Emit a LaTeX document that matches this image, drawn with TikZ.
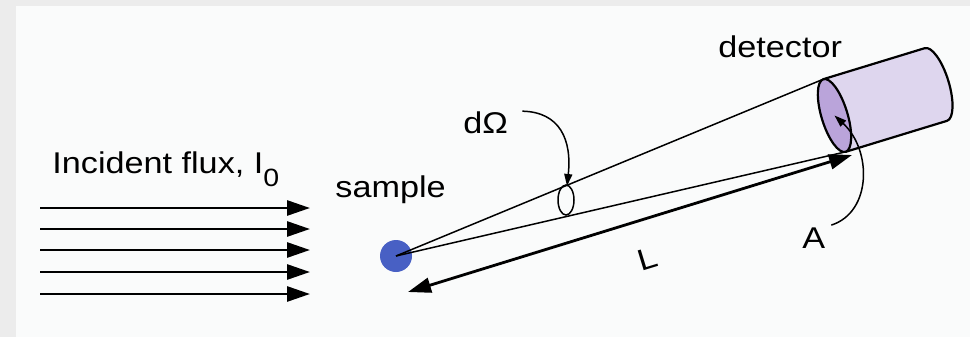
\documentclass[tikz,border=0pt]{standalone}
\usepackage{fontspec}
\setmainfont[FakeStretch=1.14]{Liberation Sans}
\usetikzlibrary{arrows.meta}

\definecolor{bgframe}{RGB}{236,236,236}
\definecolor{bgpaper}{RGB}{250,251,251}
\definecolor{samplecol}{RGB}{72,96,196}
\definecolor{bodycol}{RGB}{222,214,238}
\definecolor{facecol}{RGB}{186,164,218}

\begin{document}
\begin{tikzpicture}[
    x=0.5pt, y=-0.5pt,
    font=\fontsize{15}{17}\selectfont,
    beam/.style={
        line width=1.4pt,
        -{Triangle[length=11.5pt,width=7.5pt]}
      },
    ray/.style={line width=0.75pt},
    pointer/.style={
        line width=0.75pt,
        -{Triangle[length=6pt,width=4pt]}
      },
    lbl/.style={inner sep=0pt}
  ]
  % 背景
  \fill[bgframe] (0,0) rectangle (970,337);
  \fill[bgpaper] (16,6) rectangle (970,337);
  \useasboundingbox (0,0) rectangle (970,337);

  % 入射ビーム
  \node[lbl, anchor=base west] (flux) at (52,173)
    {Incident flux, I\raisebox{-0.45em}{\fontsize{12.5}{13}\selectfont 0}};
  \foreach \k/\y in {1/208, 2/229, 3/250, 4/272, 5/294}{
    \coordinate (in\k) at (40,\y);
    \coordinate (out\k) at (310,\y);
    \draw[beam] (in\k) -- (out\k);
  }

  % 試料
  \node[circle, fill=samplecol, minimum size=16pt, inner sep=0pt] (sample) at (396,256) {};
  \node[lbl, anchor=base west] (samplelabel) at (335,197) {sample};

  % 検出器（円筒）
  \begin{scope}[shift={(834.5,115.5)}, rotate=17]
    \coordinate (face top) at (0,-38);
    \coordinate (face bottom) at (0,38);
    \coordinate (face centre) at (0,0);
    \filldraw[fill=bodycol, line width=1.1pt]
      (0,-38) -- (106,-38)
      arc[start angle=-90, end angle=90, x radius=13, y radius=38]
      -- (0,38);
    \filldraw[fill=facecol, line width=1.1pt] (face centre) ellipse [x radius=13, y radius=38];
  \end{scope}
  \node[lbl, anchor=base west] (detectorlabel) at (718,57) {detector};

  % 立体角の円錐
  \draw[ray] (sample.center) -- (face top);
  \draw[ray] (sample.center) -- (face bottom);
  \draw[ray] (566,200) ellipse [x radius=8, y radius=15];
  \coordinate (cone cut) at (567,186);

  \node[lbl, anchor=base west] (dOmega) at (463,133) {dΩ};
  \draw[pointer, shorten <=7pt] (dOmega.north east) .. controls (560,112) and (572,140) .. (cone cut);

  % 距離 L
  \coordinate (L near) at (408,292);
  \coordinate (L far) at (852,155);
  \draw[
    line width=1.4pt,
    {Triangle[length=11.5pt,width=7.5pt]}-{Triangle[length=11.5pt,width=7.5pt]}
  ] (L near) -- (L far);
  \node[lbl, rotate=17] (Llabel) at (648,259) {L};

  % 面積 A
  \node[lbl, anchor=base west] (Alabel) at (802,248) {A};
  \draw[pointer, shorten <=3pt] (Alabel.north east) .. controls (872,212) and (872,150) .. (face centre);

\end{tikzpicture}
\end{document}
